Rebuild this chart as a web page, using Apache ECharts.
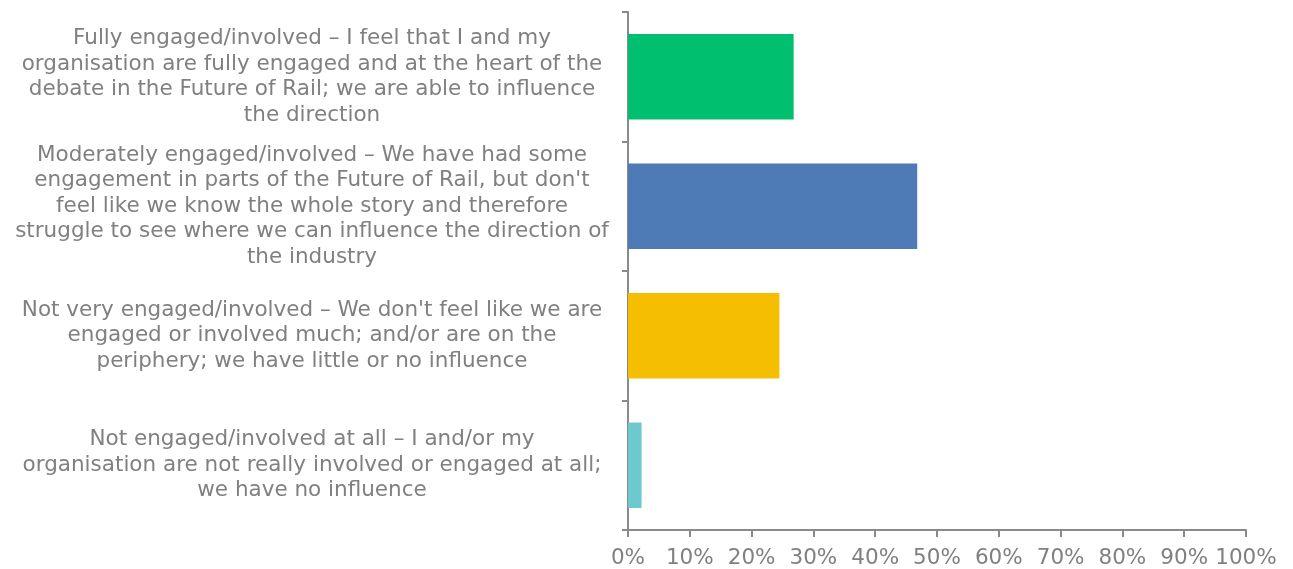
<!DOCTYPE html>
<html lang="en">
<head>
    <meta charset="UTF-8">
    <title>Engagement in the Future of Rail</title>
    <style type="text/css">
        html, body { margin: 0; padding: 0; background: #fff; }
        #chart { width: 1293px; height: 569px; }
    </style>
</head>
<body>
<div id="chart"></div>
<script src="https://cdn.jsdelivr.net/npm/echarts@6/dist/echarts.min.js"></script>
<script>
    // categories, top to bottom
    var categories = [
        'Fully engaged/involved \u2013 I feel that I and my\norganisation are fully engaged and at the heart of the\ndebate in the Future of Rail; we are able to influence\nthe direction',
        'Moderately engaged/involved \u2013 We have had some\nengagement in parts of the Future of Rail, but don\'t\nfeel like we know the whole story and therefore\nstruggle to see where we can influence the direction of\nthe industry',
        'Not very engaged/involved \u2013 We don\'t feel like we are\nengaged or involved much; and/or are on the\nperiphery; we have little or no influence',
        'Not engaged/involved at all \u2013 I and/or my\norganisation are not really involved or engaged at all;\nwe have no influence'
    ];
    var values = [26.8, 46.8, 24.5, 2.2];
    var barColors = ['#00bf6f', '#4e7bb5', '#f5be00', '#6cc9cc'];

    var axisGray = '#8a8a8a';
    var textGray = '#808080';
    var font = 'Verdana, "DejaVu Sans", sans-serif';

    var myChart = echarts.init(document.getElementById('chart'));
    var option = {
        animation: false,
        grid: { left: 628, right: 47, top: 12, bottom: 38, containLabel: false },
        xAxis: {
            type: 'value',
            min: 0,
            max: 100,
            interval: 10,
            axisLine: { show: true, lineStyle: { color: axisGray, width: 2 } },
            axisTick: { show: true, length: 7, lineStyle: { color: axisGray, width: 2 } },
            splitLine: { show: false },
            axisLabel: {
                formatter: '{value}%',
                color: textGray,
                fontFamily: font,
                fontSize: 21.5,
                margin: 17
            }
        },
        yAxis: {
            type: 'category',
            inverse: true,
            data: categories,
            axisLine: { show: true, lineStyle: { color: axisGray, width: 2 } },
            axisTick: { show: true, length: 6, lineStyle: { color: axisGray, width: 2 } },
            axisLabel: {
                color: textGray,
                fontFamily: font,
                fontSize: 21.5,
                lineHeight: 25.5,
                align: 'center',
                margin: 316
            }
        },
        series: [{
            type: 'bar',
            barCategoryGap: '34%',
            data: values.map(function (v, i) {
                return { value: v, itemStyle: { color: barColors[i] } };
            })
        }]
    };
    myChart.setOption(option);
</script>
</body>
</html>
